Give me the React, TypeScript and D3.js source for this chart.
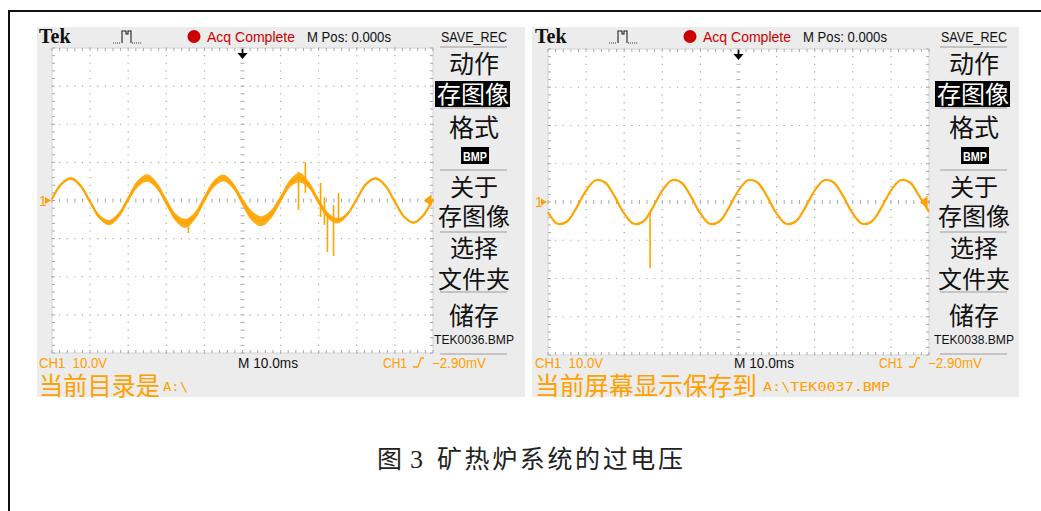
import React from 'react';
import * as d3 from 'd3';

// ---------- data ----------
// sample times in ms (M 10.0ms/div, 10 div, trigger at centre)
const sampleTimes = [
  -50, -47.5, -45, -42.5, -40, -37.5, -35, -32.5, -30, -27.5,
  -25, -22.5, -20, -17.5, -15, -12.5, -10, -7.5, -5, -2.5,
  0, 2.5, 5, 7.5, 10, 12.5, 15, 17.5, 20, 22.5,
  25, 27.5, 30, 32.5, 35, 37.5, 40, 42.5, 45, 47.5, 50,
];
// left screen (TEK0036): noisy trace, volts (CH1 10.0V/div)
const leftVolts = [
  0.4, 4.35, 5.8, 3.85, -0.35, -4.35, -5.8, -3.85, 0.4, 4.4,
  5.9, 3.9, -0.4, -4.5, -6.0, -4.0, 0.4, 4.4, 5.9, 3.9,
  -0.35, -4.05, -5.4, -3.6, 0.4, 4.5, 6.0, 4.0, -0.35, -4.0,
  -5.3, -3.6, 0.4, 4.35, 5.8, 3.85, -0.35, -4.35, -5.8, -3.85, 0.4,
];
// half-width of the noise band around the left trace, volts
const leftNoise = [
  0.2, 0.2, 0.3, 0.4, 0.5, 0.6, 0.7, 0.7, 0.7, 0.9,
  1.0, 0.9, 0.9, 1.0, 1.2, 1.0, 0.9, 0.9, 0.9, 0.8,
  1.0, 1.3, 1.3, 1.1, 0.9, 1.0, 1.3, 0.9, 0.8, 0.8,
  0.7, 0.4, 0.2, 0.2, 0.2, 0.2, 0.2, 0.2, 0.2, 0.2, 0.2,
];
// over-voltage spikes on the left trace: time ms, low / high volts
const leftSpikeTimes = [-14.2, 14.7, 16.5, 20.5, 21.5, 22.3, 23.9, 25.2];
const leftSpikeLow = [-8.5, -2.5, 2.0, -4.3, -6.4, -13.5, -14.6, -5.6];
const leftSpikeHigh = [-5.5, 7.5, 10.1, 4.6, 0.9, -3.8, -1.2, 2.0];
// right screen (TEK0038): clean trace
const rightVolts = [
  -2.6, -5.7, -5.1, -1.45, 3.0, 5.7, 5.1, 1.45, -3.0, -5.7,
  -5.1, -1.45, 3.0, 5.7, 5.1, 1.45, -3.0, -5.7, -5.1, -1.45,
  3.0, 5.7, 5.1, 1.45, -3.0, -5.7, -5.1, -1.45, 3.0, 5.7,
  5.1, 1.45, -3.0, -5.7, -5.1, -1.45, 3.0, 5.7, 5.1, 1.45, -2.6,
];
const rightSpikeTimes = [-23.2];
const rightSpikeLow = [-17.3];
const rightSpikeHigh = [-2.5];

const menuTop = ['动作'];
const menuHighlight = '存图像';
const menuFormat = '格式';
const menuBmp = 'BMP';
const menuAbout = ['关于', '存图像'];
const menuFolder = ['选择', '文件夹'];
const menuSave = '储存';
const caption = '矿热炉系统的过电压';

const ORANGE = '#ffa500';
const TXT_ORANGE = '#ffa000';
const NARROW = "'Liberation Sans Narrow','Liberation Sans',Arial,sans-serif";
const CJK = "'Noto Sans CJK SC','Noto Sans CJK JP',sans-serif";

type Spec = {
  gx: number; gy: number; gw: number; gh: number;
  px: number; py: number; pw: number; ph: number;
  dx: number; mx: number;
  volts: number[]; noise: number[] | null;
  spT: number[]; spLo: number[]; spHi: number[];
  fileName: string; msg: string; msgLen: number; path: string; pathX: number; pathLen: number;
};

function Panel({ s }: { s: Spec }) {
  const x = d3.scaleLinear().domain([-50, 50]).range([s.px, s.px + s.pw]);
  const y = d3.scaleLinear().domain([-40, 40]).range([s.py + s.ph, s.py]);
  const minorX = d3.range(-50, 50.001, 2);
  const minorY = d3.range(-40, 40.001, 2);
  const majorX = d3.range(-40, 41, 10).filter((v) => v !== 0);
  const majorY = d3.range(-30, 31, 10).filter((v) => v !== 0);

  let dots = '';
  majorX.forEach((mx) => minorY.forEach((my) => { dots += `M${x(mx) - 0.6},${y(my) - 0.6}h1.2v1.2h-1.2z`; }));
  majorY.forEach((my) => minorX.forEach((mx) => { dots += `M${x(mx) - 0.6},${y(my) - 0.6}h1.2v1.2h-1.2z`; }));
  let ticks = '';
  minorX.forEach((mx) => {
    ticks += `M${x(mx)},${y(0) - 2}v4`;
    ticks += `M${x(mx)},${s.py}v3M${x(mx)},${s.py + s.ph}v-3`;
  });
  minorY.forEach((my) => {
    ticks += `M${x(0) - 2},${y(my)}h4`;
    ticks += `M${s.px},${y(my)}h3M${s.px + s.pw},${y(my)}h-3`;
  });

  const line = d3.line<number>().x((_, i) => x(sampleTimes[i])).y((d) => y(d)).curve(d3.curveCatmullRom.alpha(0.5));
  const noise = s.noise;
  const band = noise
    ? d3.area<number>().x((_, i) => x(sampleTimes[i])).y0((d, i) => y(d - noise[i])).y1((d, i) => y(d + noise[i])).curve(d3.curveCatmullRom.alpha(0.5))(s.volts)
    : null;

  const d = s.dx;
  const m = s.mx;
  const cx = 474 + m;
  const y0 = y(0);
  const seps = [47, 108, 170, 232, 292, 354];

  return (
    <g>
      <rect x={s.gx} y={s.gy} width={s.gw} height={s.gh} fill="#ececec" />
      <rect x={s.px} y={s.py} width={s.pw} height={s.ph} fill="#fff" stroke="#d4d4d4" strokeWidth={1} />
      <path d={dots} fill="#a8a8a8" />
      <path d={ticks} stroke="#a8a8a8" strokeWidth={1} fill="none" />
      {band && <path d={band} fill={ORANGE} opacity={0.9} />}
      <path d={line(s.volts) || ''} fill="none" stroke={ORANGE} strokeWidth={2.2} />
      {s.spT.map((t, i) => (
        <line key={i} x1={x(t)} x2={x(t)} y1={y(s.spHi[i])} y2={y(s.spLo[i])} stroke={ORANGE} strokeWidth={1.6} />
      ))}
      {/* ground marker */}
      <text x={s.px - 13} y={y0 + 5} fontFamily={NARROW} fontSize={14} fill={TXT_ORANGE}>1</text>
      <path d={`M${s.px - 7},${y0 - 3.5}L${s.px - 1},${y0}L${s.px - 7},${y0 + 3.5}z`} fill={TXT_ORANGE} />
      {/* trigger level marker */}
      <path d={`M${s.px + s.pw - 8},${y0}l6,-5v10z M${s.px + s.pw - 3},${y0}h4`} fill={TXT_ORANGE} stroke={TXT_ORANGE} strokeWidth={1.2} />
      {/* trigger position */}
      <path d={`M${x(0)},${s.py + 1}v6`} stroke="#000" strokeWidth={1.8} />
      <path d={`M${x(0) - 5},${s.py + 5}h10l-5,6z`} fill="#000" />

      {/* header */}
      <text x={39 + d} y={43} fontFamily="'Liberation Serif','Times New Roman',serif" fontWeight="bold" fontSize={20} fill="#111">Tek</text>
      <path d={`M${113 + d},43h8`} stroke="#333" strokeWidth={1} strokeDasharray="1 1" />
      <path d={`M${122 + d},43V31H${126 + d}V34H${128 + d}V31H${131 + d}V43`} stroke="#222" strokeWidth={1.1} fill="none" />
      <path d={`M${132 + d},43h9`} stroke="#333" strokeWidth={1} strokeDasharray="1 1" />
      <circle cx={194 + d} cy={36.5} r={6.5} fill="#cc0000" />
      <text x={207 + d} y={42} fontFamily={NARROW} fontSize={14} fill="#cc0000" textLength={88} lengthAdjust="spacingAndGlyphs">Acq Complete</text>
      <text x={307 + d} y={42} fontFamily={NARROW} fontSize={14} fill="#111" textLength={84} lengthAdjust="spacingAndGlyphs">M Pos: 0.000s</text>

      {/* menu */}
      <text x={cx} y={42} textAnchor="middle" fontFamily={NARROW} fontSize={14} fill="#111" textLength={66} lengthAdjust="spacingAndGlyphs">SAVE_REC</text>
      {seps.map((sy) => (
        <line key={sy} x1={440 + m} x2={507 + m} y1={sy} y2={sy} stroke="#c4c4c4" strokeWidth={2} />
      ))}
      <text x={cx} y={72.5} textAnchor="middle" fontFamily={CJK} fontSize={25} fill="#111">{menuTop[0]}</text>
      <rect x={435 + m} y={81} width={75} height={26} fill="#000" />
      <text x={cx - 1} y={103} textAnchor="middle" fontFamily={CJK} fontSize={24} fill="#fff" textLength={72} lengthAdjust="spacingAndGlyphs">{menuHighlight}</text>
      <text x={cx} y={136.5} textAnchor="middle" fontFamily={CJK} fontSize={25} fill="#111">{menuFormat}</text>
      <rect x={461 + m} y={147} width={28} height={17} fill="#000" />
      <text x={cx + 1} y={161} textAnchor="middle" fontFamily={NARROW} fontWeight="bold" fontSize={12} fill="#fff" textLength={24} lengthAdjust="spacingAndGlyphs">{menuBmp}</text>
      <text x={cx} y={196} textAnchor="middle" fontFamily={CJK} fontSize={24} fill="#111">{menuAbout[0]}</text>
      <text x={cx} y={225} textAnchor="middle" fontFamily={CJK} fontSize={24} fill="#111">{menuAbout[1]}</text>
      <text x={cx} y={257} textAnchor="middle" fontFamily={CJK} fontSize={24} fill="#111">{menuFolder[0]}</text>
      <text x={cx} y={288} textAnchor="middle" fontFamily={CJK} fontSize={24} fill="#111">{menuFolder[1]}</text>
      <text x={cx} y={324.5} textAnchor="middle" fontFamily={CJK} fontSize={25} fill="#111">{menuSave}</text>
      <text x={cx} y={343.5} textAnchor="middle" fontFamily={NARROW} fontSize={13.5} fill="#111" textLength={80} lengthAdjust="spacingAndGlyphs">{s.fileName}</text>

      {/* bottom status */}
      <text x={39 + d} y={368} fontFamily={NARROW} fontSize={14} fill={TXT_ORANGE} textLength={68} lengthAdjust="spacingAndGlyphs">{'CH1\u00a0\u00a010.0V'}</text>
      <text x={238 + d} y={368} fontFamily={NARROW} fontSize={14} fill="#111" textLength={60} lengthAdjust="spacingAndGlyphs">M 10.0ms</text>
      <text x={383 + d} y={368} fontFamily={NARROW} fontSize={14} fill={TXT_ORANGE} textLength={24} lengthAdjust="spacingAndGlyphs">CH1</text>
      <path d={`M${413 + d},367l5,0l3,-9h3`} stroke={TXT_ORANGE} strokeWidth={1.3} fill="none" />
      <text x={432 + d} y={368} fontFamily={NARROW} fontSize={14} fill={TXT_ORANGE} textLength={54} lengthAdjust="spacingAndGlyphs">−2.90mV</text>
      <text x={39 + d} y={395} fontFamily={CJK} fontSize={25} fill={TXT_ORANGE} textLength={s.msgLen} lengthAdjust="spacingAndGlyphs">{s.msg}</text>
      <text x={s.pathX} y={391} fontFamily="'DejaVu Sans Mono',monospace" fontSize={13} fill={TXT_ORANGE} textLength={s.pathLen} lengthAdjust="spacingAndGlyphs">{s.path}</text>
    </g>
  );
}

const leftSpec: Spec = {
  gx: 37, gy: 27, gw: 488, gh: 370, px: 52, py: 48, pw: 381, ph: 305, dx: 0, mx: 0,
  volts: leftVolts, noise: leftNoise, spT: leftSpikeTimes, spLo: leftSpikeLow, spHi: leftSpikeHigh,
  fileName: 'TEK0036.BMP', msg: '当前目录是', msgLen: 121, path: 'A:\\', pathX: 163, pathLen: 25,
};
const rightSpec: Spec = {
  gx: 532, gy: 27, gw: 487, gh: 370, px: 548, py: 49, pw: 381, ph: 306, dx: 496, mx: 500,
  volts: rightVolts, noise: null, spT: rightSpikeTimes, spLo: rightSpikeLow, spHi: rightSpikeHigh,
  fileName: 'TEK0038.BMP', msg: '当前屏幕显示保存到', msgLen: 222, path: 'A:\\TEK0037.BMP', pathX: 763, pathLen: 127,
};

export default function App() {
  return (
    <svg width={1041} height={511} style={{ position: 'absolute', left: 0, top: 0, background: '#fff' }}>
      <rect x={0} y={0} width={1041} height={511} fill="#fff" />
      <rect x={9} y={11} width={1060} height={520} fill="none" stroke="#111" strokeWidth={2} />
      <Panel s={leftSpec} />
      <Panel s={rightSpec} />
      <text x={377} y={468} fontFamily={CJK} fontSize={25} fill="#222">图</text>
      <text x={410} y={468} fontFamily="'Liberation Serif','Times New Roman',serif" fontSize={26} fill="#222">3</text>
      <text x={437} y={468} fontFamily={CJK} fontSize={25} fill="#222" textLength={246} lengthAdjust="spacing">{caption}</text>
    </svg>
  );
}
